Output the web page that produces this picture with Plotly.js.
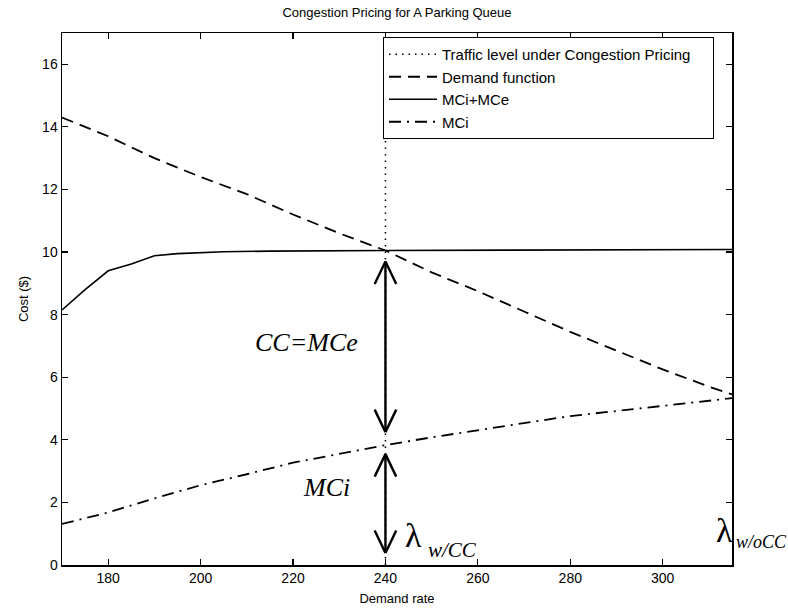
<!DOCTYPE html>
<html><head><meta charset="utf-8">
<script src="https://cdn.plot.ly/plotly-3.0.1.min.js"></script>
<style>body{margin:0;background:#fff}#chart{width:788px;height:611px}</style>
</head><body><div id="chart"></div>
<script>
// ---- data ----
const demandRate = [170, 180, 190, 200, 210, 220, 230, 240, 250, 260, 270, 280, 290, 300, 310, 315];
const demandCost = [14.3, 13.7, 13.0, 12.4, 11.85, 11.2, 10.6, 10.05, 9.35, 8.75, 8.1, 7.45, 6.85, 6.25, 5.7, 5.45];
const mciCost    = [1.31, 1.68, 2.13, 2.55, 2.9, 3.27, 3.55, 3.83, 4.08, 4.3, 4.52, 4.76, 4.92, 5.08, 5.25, 5.33];
const totalRate  = [170, 175, 180, 185, 190, 195, 205, 215, 240, 315];
const totalCost  = [8.15, 8.8, 9.4, 9.62, 9.88, 9.95, 10.01, 10.03, 10.05, 10.08];
const congestionRate = 240;
const rateRange = [170, 315];
const costRange = [0, 17];
const xTicks = [180, 200, 220, 240, 260, 280, 300];
const yTicks = [0, 2, 4, 6, 8, 10, 12, 14, 16];
const seriesNames = ['Traffic level under Congestion Pricing\u00a0\u00a0\u00a0\u00a0', 'Demand function', 'MCi+MCe', 'MCi'];

function valueAt(xs, ys, x) {
  for (let i = 0; i < xs.length - 1; i++) {
    if (x >= xs[i] && x <= xs[i + 1]) {
      const t = (x - xs[i]) / (xs[i + 1] - xs[i]);
      return ys[i] + t * (ys[i + 1] - ys[i]);
    }
  }
  return ys[ys.length - 1];
}

const topVal = valueAt(totalRate, totalCost, congestionRate);
const midVal = valueAt(demandRate, mciCost, congestionRate);
const botVal = costRange[0];

const sans = 'Liberation Sans, Arial, sans-serif';
const serif = 'Liberation Serif, Times New Roman, serif';

const traces = [
  {x: [congestionRate, congestionRate], y: costRange, mode: 'lines', name: seriesNames[0],
   line: {color: '#000', width: 1.5, dash: '1.5px,5px'}},
  {x: demandRate, y: demandCost, mode: 'lines', name: seriesNames[1],
   line: {color: '#000', width: 1.8, dash: '12px,7px'}},
  {x: totalRate, y: totalCost, mode: 'lines', name: seriesNames[2],
   line: {color: '#000', width: 1.6}},
  {x: demandRate, y: mciCost, mode: 'lines', name: seriesNames[3],
   line: {color: '#000', width: 1.8, dash: '12px,6px,2px,6px'}}
];

const annotations = [];
function shaft(yHead, yTail, so, sso) {
  annotations.push({x: congestionRate, y: yHead, ax: congestionRate, ay: yTail, xref: 'x', yref: 'y',
    axref: 'x', ayref: 'y', text: '', showarrow: true, arrowhead: 0, arrowwidth: 2.4,
    arrowcolor: '#000', standoff: so, startstandoff: sso});
}
function head(yVal, shift, dir) { // dir = 1: points up, arms go down; -1: points down
  [-11.5, 11.5].forEach(function (dx) {
    annotations.push({x: congestionRate, y: yVal, xref: 'x', yref: 'y', yshift: shift,
      text: '', showarrow: true, arrowhead: 0, arrowwidth: 2.4, arrowcolor: '#000',
      ax: dx, ay: 24 * dir});
  });
}
shaft(topVal, midVal, 11, 13);
shaft(midVal, botVal, 9, 12);
head(topVal, -11, 1);
head(midVal, 13, -1);
head(midVal, -9, 1);
head(botVal, 12, -1);

function label(text, xpx, ypx, size, italic, anchor) {
  annotations.push({xref: 'paper', yref: 'paper', x: (xpx - 62) / 670, y: (565 - ypx) / 532,
    text: italic ? '<i>' + text + '</i>' : text, showarrow: false,
    xanchor: anchor || 'center', yanchor: 'middle',
    font: {family: serif, size: size, color: '#000'}});
}
label('CC=MCe', 306, 342, 26, true);
label('MCi', 326, 487, 26, true);
label('λ', 413, 535, 34, false);
label('w/CC', 426, 550, 21, true, 'left');
label('λ', 724, 530, 34, false);
label('w/oCC', 734, 542, 18, true, 'left');

const axisCommon = {showline: true, linecolor: '#000', linewidth: 1.5, mirror: 'ticks',
  ticks: 'inside', ticklen: 6, tickwidth: 1.2, tickcolor: '#000', showgrid: false, zeroline: false,
  tickfont: {family: sans, size: 14, color: '#000'}};

const layout = {
  width: 788, height: 611,
  margin: {l: 62, r: 56, t: 33, b: 46},
  paper_bgcolor: '#fff', plot_bgcolor: '#fff',
  title: {text: 'Congestion Pricing for A Parking Queue', font: {family: sans, size: 13, color: '#000'},
    x: 0.5, xref: 'paper', y: 1 - 12 / 611, yref: 'container', yanchor: 'middle'},
  xaxis: Object.assign({}, axisCommon, {range: rateRange, tickvals: xTicks,
    title: {text: 'Demand rate', font: {family: sans, size: 13, color: '#000'}, standoff: 8}}),
  yaxis: Object.assign({}, axisCommon, {range: costRange, tickvals: yTicks,
    title: {text: 'Cost ($)', font: {family: sans, size: 13, color: '#000'}, standoff: 10}}),
  showlegend: true,
  legend: {x: (383 - 62) / 670, xanchor: 'left', y: (565 - 37) / 532, yanchor: 'top',
    bgcolor: '#fff', bordercolor: '#000', borderwidth: 1, itemwidth: 48,
    font: {family: sans, size: 15, color: '#000'}},
  annotations: annotations
};

Plotly.newPlot('chart', traces, layout, {displayModeBar: false, staticPlot: true});
</script>
</body></html>
